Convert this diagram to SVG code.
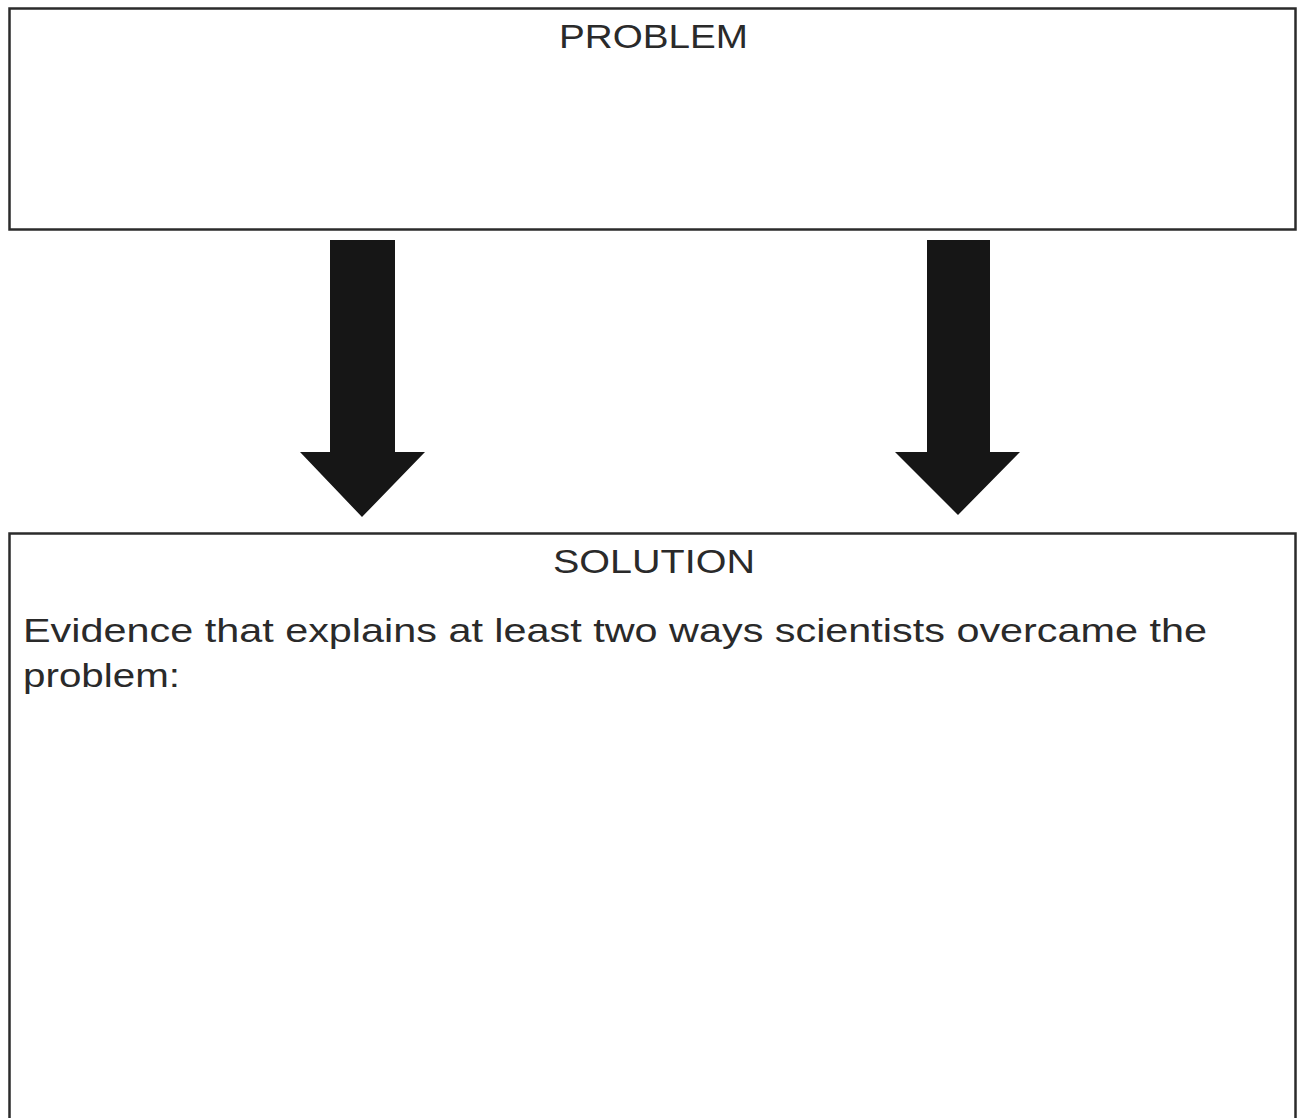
<svg xmlns="http://www.w3.org/2000/svg" width="1297" height="1118" viewBox="0 0 1297 1118">
<style>
.box{fill:#fff;stroke:#2b2b2b;stroke-width:2.5}
.title{font-family:"Liberation Sans",Arial,sans-serif;font-size:34px;fill:#2a2a2a;text-anchor:start}
.body{font-family:"Liberation Sans",Arial,sans-serif;font-size:34px;fill:#2a2a2a}
.arrow{fill:#161616}
</style>
<rect x="0" y="0" width="1297" height="1118" fill="#fff"/>
<g id="problem">
<rect class="box" x="9.5" y="8.5" width="1286" height="221"/>
<text class="title" x="559" y="48" textLength="189" lengthAdjust="spacingAndGlyphs">PROBLEM</text>
</g>
<g id="solution">
<rect class="box" x="9.5" y="533.5" width="1286" height="600"/>
<text class="title" x="553" y="573" textLength="202" lengthAdjust="spacingAndGlyphs">SOLUTION</text>
<text class="body" x="23" y="642" textLength="1184" lengthAdjust="spacingAndGlyphs">Evidence that explains at least two ways scientists overcame the</text>
<text class="body" x="23" y="687" textLength="157" lengthAdjust="spacingAndGlyphs">problem:</text>
</g>
<g id="connectors">
<polygon class="arrow" points="330,240 395,240 395,452 425,452 362,517 300,452 330,452"/>
<polygon class="arrow" points="927,240 990,240 990,452 1020,452 958,515 895,452 927,452"/>
</g>
</svg>
